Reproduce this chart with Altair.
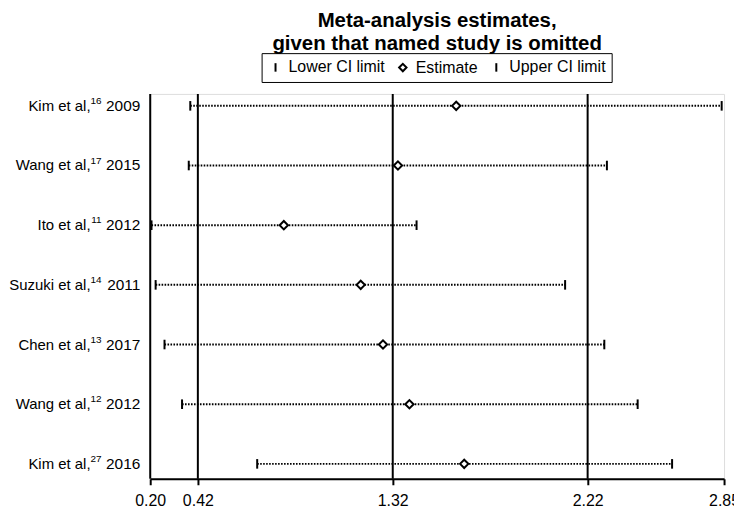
import altair as alt
import pandas as pd

# ---- data ----
studies = ["Kim et al,", "Wang et al,", "Ito et al,", "Suzuki et al,", "Chen et al,", "Wang et al,", "Kim et al,"]
refs = ["16", "17", "11", "14", "13", "12", "27"]
years = ["2009", "2015", "2012", "2011", "2017", "2012", "2016"]
lower = [0.385, 0.378, 0.206, 0.225, 0.266, 0.347, 0.694]
estimate = [1.613, 1.344, 0.817, 1.172, 1.275, 1.397, 1.650]
upper = [2.839, 2.309, 1.430, 2.116, 2.297, 2.451, 2.610]
tick_values = [0.20, 0.42, 1.32, 2.22, 2.85]
ref_lines = [0.20, 0.42, 1.32, 2.22]
kinds = ["Lower CI limit", "Estimate", "Upper CI limit"]
title_lines = ["Meta-analysis estimates,", "given that named study is omitted"]

FONT = "Liberation Sans"
W, H = 577, 387

rows = pd.DataFrame({
    "idx": list(range(len(studies))), "study": studies, "ref": refs, "year": years,
    "lower": lower, "estimate": estimate, "upper": upper,
})
long = rows.melt(id_vars=["idx"], value_vars=["lower", "estimate", "upper"],
                 var_name="kind", value_name="value")
long["kind"] = long["kind"].map({"lower": kinds[0], "estimate": kinds[1], "upper": kinds[2]})

xscale = alt.Scale(domain=[0.2, 2.85], nice=False, zero=False)
yscale = alt.Scale(domain=[-0.2, 6.25], reverse=True, nice=False, zero=False)

vlines = alt.Chart(pd.DataFrame({"v": ref_lines})).mark_rule(color="black", strokeWidth=2).encode(
    x=alt.X("v:Q", scale=xscale, axis=alt.Axis(
        values=tick_values, format=".2f", title=None, grid=False,
        domainColor="black", domainWidth=2, tickColor="black", tickWidth=2, tickSize=6,
        labelFontSize=16, labelFont=FONT, labelColor="black", labelPadding=8,
        labelFlush=False, labelOverlap=False)),
    y=alt.value(0), y2=alt.value(H),
)

dots = alt.Chart(rows).mark_rule(color="black", strokeWidth=2, strokeDash=[1.6, 1.4]).encode(
    x=alt.X("lower:Q", scale=xscale),
    x2="upper:Q",
    y=alt.Y("idx:Q", scale=yscale, axis=None),
)

# white diamonds under the outlined ones, to break the dotted line
under = alt.Chart(rows).mark_point(shape="diamond", filled=True, color="white", opacity=1, size=70).encode(
    x=alt.X("estimate:Q", scale=xscale),
    y=alt.Y("idx:Q", scale=yscale),
)

bar_path = "M0,-1.15L0,1.15"
points = alt.Chart(long).mark_point(filled=False, color="black", strokeWidth=2, opacity=1, size=70).encode(
    x=alt.X("value:Q", scale=xscale),
    y=alt.Y("idx:Q", scale=yscale),
    shape=alt.Shape("kind:N", scale=alt.Scale(domain=kinds, range=[bar_path, "diamond", bar_path]),
                    legend=alt.Legend(title=None, orient="none", legendX=112, legendY=-41,
                                      direction="horizontal",
                                      strokeColor="black", padding=6,
                                      labelFontSize=16, labelFont=FONT, labelColor="black",
                                      symbolSize=55, columnPadding=10, labelOffset=5,
                                      symbolStrokeWidth=2)),
)

base_text = alt.Chart(rows).encode(y=alt.Y("idx:Q", scale=yscale))
year_t = base_text.mark_text(align="right", baseline="middle", fontSize=15.5, font=FONT,
                             color="black").encode(x=alt.value(-10), text="year:N")
sup_t = base_text.mark_text(align="right", baseline="middle", fontSize=10, font=FONT,
                            color="black", dy=-5).encode(x=alt.value(-49), text="ref:N")
name_t = base_text.mark_text(align="right", baseline="middle", fontSize=15, font=FONT,
                             color="black").encode(x=alt.value(-60), text="study:N")

chart = alt.layer(vlines, dots, under, points, year_t, sup_t, name_t).properties(
    width=W, height=H,
    title=alt.TitleParams(title_lines, fontSize=20.5, font=FONT, fontWeight="bold",
                          anchor="middle", color="black", lineHeight=23, offset=-2),
    autosize=alt.AutoSizeParams(type="none"),
    padding={"left": 143, "top": 85, "right": 10, "bottom": 30},
).configure_view(stroke=None).configure(font=FONT)

chart.save("out.html", embed_options={"renderer": "svg", "actions": False})
